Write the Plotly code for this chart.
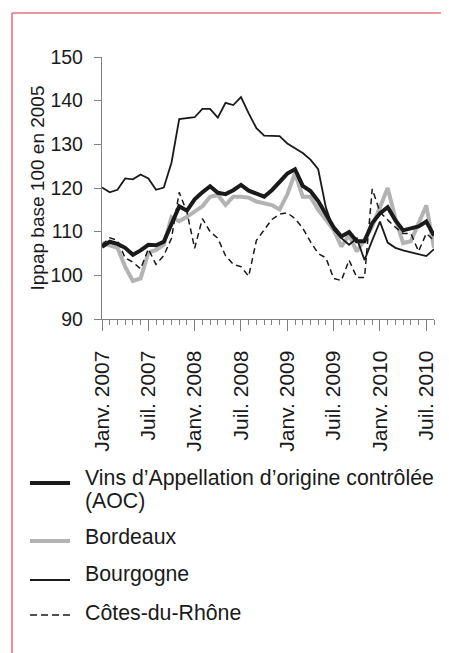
import plotly.graph_objects as go

# ---- data ----
months = []
_abbr = ["Janv.", "Févr.", "Mars", "Avr.", "Mai", "Juin", "Juil.", "Août", "Sept.", "Oct.", "Nov.", "Déc."]
for _y in [2007, 2008, 2009, 2010]:
    for _m in _abbr:
        months.append(f"{_m} {_y}")
months = months[:44]  # Janv. 2007 .. Août 2010

tick_labels = ["Janv. 2007", "Juil. 2007", "Janv. 2008", "Juil. 2008",
               "Janv. 2009", "Juil. 2009", "Janv. 2010", "Juil. 2010"]

aoc = [106.5, 107.7, 107.2, 106.3, 104.7, 105.7, 107.0, 106.9, 107.7, 112.0,
       115.8, 114.8, 117.4, 119.0, 120.4, 118.9, 118.6, 119.5, 120.7, 119.4,
       118.6, 118.0, 119.5, 121.4, 123.3, 124.3, 120.5, 119.3, 117.0, 114.0,
       111.0, 108.9, 109.9, 107.8, 107.8, 112.0, 114.2, 115.6, 112.6, 110.3,
       110.8, 111.2, 112.3, 109.1]
bordeaux = [107.4, 106.9, 106.3, 102.0, 98.7, 99.3, 105.2, 105.8, 107.0, 113.3,
            112.4, 113.4, 114.6, 115.8, 118.0, 118.4, 116.1, 118.0, 118.0, 117.8,
            116.9, 116.4, 116.1, 115.1, 118.5, 123.4, 118.0, 118.0, 115.0, 112.7,
            110.4, 106.6, 109.2, 105.5, 108.1, 111.2, 115.5, 120.0, 113.0, 107.4,
            107.8, 112.0, 116.0, 106.3]
bourgogne = [120.1, 119.0, 119.6, 122.2, 122.0, 123.1, 122.2, 119.6, 120.1, 125.8,
             135.8, 136.0, 136.2, 138.1, 138.1, 136.1, 139.5, 139.0, 140.8, 137.1,
             133.7, 132.0, 132.0, 131.9, 130.2, 129.0, 128.0, 126.5, 124.3, 115.5,
             110.5, 108.5, 107.0, 108.5, 103.5, 108.0, 112.3, 107.5, 106.3, 105.7,
             105.3, 104.8, 104.4, 106.0]
cotes_du_rhone = [107.0, 108.6, 108.0, 104.0, 103.0, 101.5, 106.0, 102.5, 104.5, 108.5,
                  119.0, 114.5, 106.2, 113.0, 110.0, 108.5, 104.5, 102.5, 102.0, 99.8,
                  108.0, 110.5, 112.8, 114.0, 114.3, 113.0, 110.8, 107.7, 105.0, 104.0,
                  99.3, 98.8, 103.5, 99.5, 99.5, 119.8, 114.5, 112.7, 111.0, 109.6,
                  109.6, 105.5, 109.6, 108.0]

series_names = ["Vins d’Appellation d’origine contrôlée (AOC)", "Bordeaux",
                "Bourgogne", "Côtes-du-Rhône"]

# ---- layout helpers (page pixel -> paper); the page body has an 8px margin ----
OFF = 8
W, H = 441, 645
ML, MR, MT, MB = 94, 15, 49, 334
PW, PH = W - ML - MR, H - MT - MB
def fx(px):
    return (px - OFF - ML) / PW
def fy(py):
    return (H - MB - (py - OFF)) / PH

FONT = "Liberation Sans, Arial, sans-serif"
BLACK = "#1a1a1a"
GREY = "#b3b3b3"
AXIS = "#808080"
PINK = "#e8737f"

x = list(range(len(months)))
tickvals = [months.index(t) for t in tick_labels]

fig = go.Figure()
styles = {
    "Bordeaux": dict(color=GREY, width=4),
    "AOC": dict(color=BLACK, width=4),
    "Bourgogne": dict(color=BLACK, width=1.8),
    "CdR": dict(color=BLACK, width=1.5, dash="6px,4px"),
}
fig.add_trace(go.Scatter(x=x, y=bordeaux, mode="lines", name=series_names[1],
                         line=styles["Bordeaux"], showlegend=False, customdata=months))
fig.add_trace(go.Scatter(x=x, y=aoc, mode="lines", name=series_names[0],
                         line=styles["AOC"], showlegend=False, customdata=months))
fig.add_trace(go.Scatter(x=x, y=bourgogne, mode="lines", name=series_names[2],
                         line=styles["Bourgogne"], showlegend=False, customdata=months))
fig.add_trace(go.Scatter(x=x, y=cotes_du_rhone, mode="lines", name=series_names[3],
                         line=styles["CdR"], showlegend=False, customdata=months))

shapes = []
annotations = []
# pink frame (left and top edges)
shapes.append(dict(type="line", xref="paper", yref="paper",
                   x0=fx(12), x1=fx(12), y0=fy(13), y1=fy(H + 20),
                   line=dict(color=PINK, width=1.6)))
shapes.append(dict(type="line", xref="paper", yref="paper",
                   x0=fx(12), x1=fx(W + 20), y0=fy(13), y1=fy(13),
                   line=dict(color=PINK, width=1.6)))

# manual legend
legend_items = [
    ("AOC", ["Vins d’Appellation d’origine contrôlée", "(AOC)"], 483, [478, 500.5]),
    ("Bordeaux", ["Bordeaux"], 541, [537]),
    ("Bourgogne", ["Bourgogne"], 580, [574]),
    ("CdR", ["Côtes-du-Rhône"], 615, [613]),
]
for key, lines, ly, tys in legend_items:
    st = styles[key]
    ln = dict(color=st["color"], width=st["width"])
    if "dash" in st:
        ln["dash"] = "7px,4px"
    shapes.append(dict(type="line", xref="paper", yref="paper",
                       x0=fx(30), x1=fx(70), y0=fy(ly), y1=fy(ly), line=ln))
    for txt, ty in zip(lines, tys):
        annotations.append(dict(text=txt, xref="paper", yref="paper",
                                x=fx(83), y=fy(ty), xanchor="left", yanchor="middle",
                                showarrow=False,
                                font=dict(family=FONT, size=21.3, color=BLACK)))

fig.update_layout(
    width=W, height=H,
    margin=dict(l=ML, r=MR, t=MT, b=MB, pad=0),
    paper_bgcolor="white", plot_bgcolor="white",
    font=dict(family=FONT, color=BLACK),
    showlegend=False,
    shapes=shapes, annotations=annotations,
    xaxis=dict(
        range=[0, len(months) - 1], showgrid=False, zeroline=False,
        showline=True, linecolor=AXIS, linewidth=1.3,
        tickmode="array", tickvals=tickvals, ticktext=tick_labels,
        ticks="outside", ticklen=11, tickwidth=1.3, tickcolor=AXIS,
        tickangle=-90, tickfont=dict(family=FONT, size=21, color=BLACK),
        ticklabelstandoff=11,
        minor=dict(dtick=1, tick0=0, ticks="outside", ticklen=5, tickwidth=1,
                   tickcolor=AXIS, showgrid=False),
    ),
    yaxis=dict(
        range=[90, 150], dtick=10, showgrid=False, zeroline=False,
        showline=True, linecolor=AXIS, linewidth=1.3,
        ticks="outside", ticklen=7, tickwidth=1.3, tickcolor=AXIS,
        tickfont=dict(family=FONT, size=19.5, color=BLACK),
        ticklabelstandoff=7,
        title=dict(text="Ippap base 100 en 2005",
                   font=dict(family=FONT, size=19, color=BLACK), standoff=0),
    ),
)

fig.write_html("out.html")
